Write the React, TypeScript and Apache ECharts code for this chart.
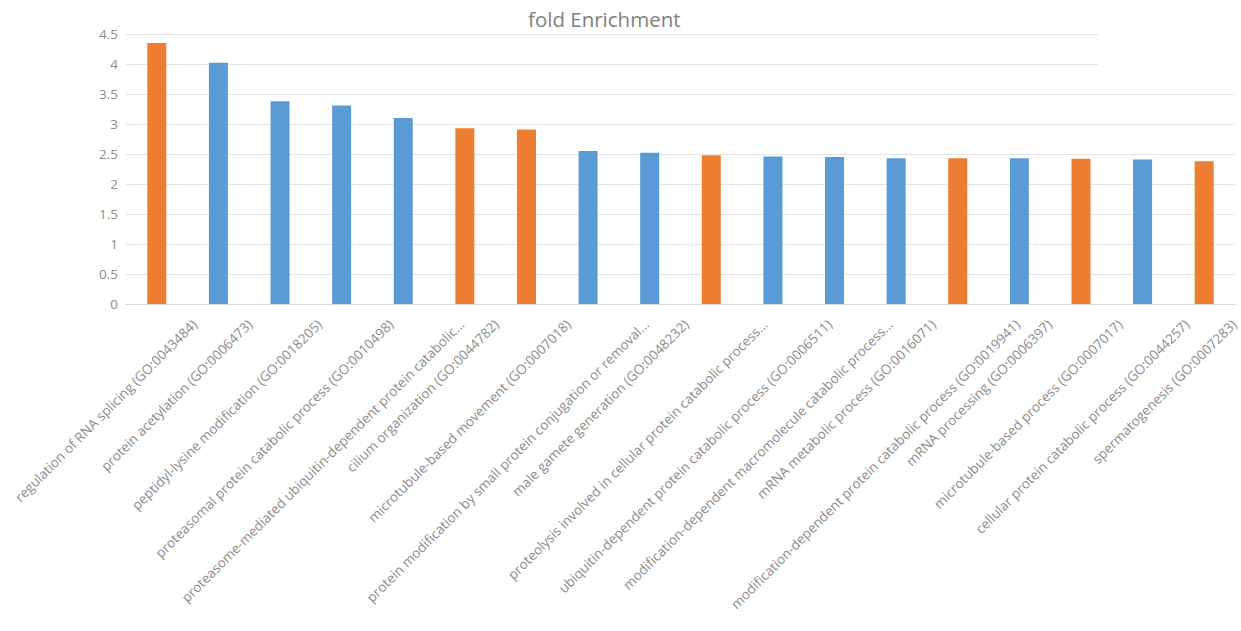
import React, { useEffect, useRef } from "react";
import * as echarts from "echarts";

const categories = [
  "regulation of RNA splicing (GO:0043484)",
  "protein acetylation (GO:0006473)",
  "peptidyl-lysine modification (GO:0018205)",
  "proteasomal protein catabolic process (GO:0010498)",
  "proteasome-mediated ubiquitin-dependent protein catabolic...",
  "cilium organization (GO:0044782)",
  "microtubule-based movement (GO:0007018)",
  "protein modification by small protein conjugation or removal...",
  "male gamete generation (GO:0048232)",
  "proteolysis involved in cellular protein catabolic process...",
  "ubiquitin-dependent protein catabolic process (GO:0006511)",
  "modification-dependent macromolecule catabolic process...",
  "mRNA metabolic process (GO:0016071)",
  "modification-dependent protein catabolic process (GO:0019941)",
  "mRNA processing (GO:0006397)",
  "microtubule-based process (GO:0007017)",
  "cellular protein catabolic process (GO:0044257)",
  "spermatogenesis (GO:0007283)",
];

const foldEnrichment = [
  4.35, 4.02, 3.38, 3.31, 3.1, 2.93, 2.91, 2.55, 2.52, 2.48, 2.46, 2.45, 2.43,
  2.43, 2.43, 2.42, 2.41, 2.38,
];

// which bars are highlighted (orange)
const highlighted = [
  true, false, false, false, false, true, true, false, false, true, false,
  false, false, true, false, true, false, true,
];

const ORANGE = "#ED7D31";
const BLUE = "#5B9BD5";

const LABEL_FONT_SIZE = 13.5;
const LABEL_MARGIN = -45;
const LABEL_COLOR = "#8c8c8c";

export default function App() {
  const ref = useRef<HTMLDivElement>(null);

  useEffect(() => {
    if (!ref.current) return;
    const chart = echarts.init(ref.current, null, { renderer: "svg" });
    const font = "'Open Sans', 'Noto Sans', sans-serif";

    // measure label lengths to reproduce the spreadsheet-style placement
    const cv = document.createElement("canvas");
    const ctx = cv.getContext("2d");
    const measure = (t: string) => {
      if (!ctx) return t.length * 6.6;
      ctx.font = `${LABEL_FONT_SIZE}px ${font}`;
      return ctx.measureText(t).width;
    };
    const k = Math.SQRT1_2;
    const dy = 322 - 304 - LABEL_MARGIN;
    const rich: Record<string, any> = {};
    categories.forEach((c, i) => {
      const L = measure(c);
      const dx = 0.146 * L + 1;
      const a = (dy / k + dx / k) / 2;
      const b = Math.max(0, (dy / k - dx / k) / 2);
      rich["l" + i] = {
        padding: [2 * a, b, 0, 0],
        fontSize: LABEL_FONT_SIZE,
        color: LABEL_COLOR,
        fontFamily: font,
      };
    });

    chart.setOption({
      animation: false,
      backgroundColor: "#ffffff",
      textStyle: { fontFamily: font },
      title: {
        text: "fold Enrichment",
        left: 523,
        top: 3,
        textStyle: {
          fontFamily: font,
          fontSize: 20.5,
          fontWeight: "normal",
          color: "#7f7f7f",
        },
      },
      grid: {
        left: 126,
        right: 6,
        top: 34,
        bottom: 327,
        containLabel: false,
        outerBoundsMode: "none",
      },
      xAxis: {
        type: "category",
        data: categories,
        z: 10,
        axisLine: { lineStyle: { color: "#d9d9d9", width: 1 } },
        axisTick: { show: false },
        axisLabel: {
          rotate: 45,
          interval: 0,
          margin: LABEL_MARGIN,
          align: "right",
          verticalAlign: "middle",
          fontSize: LABEL_FONT_SIZE,
          color: LABEL_COLOR,
          fontFamily: font,
          hideOverlap: false,
          formatter: (v: string, i: number) => `{l${i}|${v}}`,
          rich,
        },
      },
      yAxis: {
        type: "value",
        min: 0,
        max: 4.5,
        interval: 0.5,
        axisLine: { show: false },
        axisTick: { show: false },
        splitLine: { lineStyle: { color: "#e4e4e4", width: 1 } },
        axisLabel: {
          fontSize: 13.5,
          color: LABEL_COLOR,
          margin: 8,
          fontFamily: font,
        },
      },
      series: [
        {
          type: "bar",
          barWidth: 19,
          data: foldEnrichment.map((v, i) => ({
            value: v,
            itemStyle: { color: highlighted[i] ? ORANGE : BLUE },
          })),
        },
      ],
      graphic: [
        {
          type: "rect",
          shape: { x: 1098, y: 28, width: 143, height: 42 },
          style: { fill: "#ffffff" },
          z: 100,
        },
      ],
    });
    return () => chart.dispose();
  }, []);

  return (
    <div
      ref={ref}
      style={{ position: "fixed", left: 0, top: 0, width: 1241, height: 631 }}
    />
  );
}
